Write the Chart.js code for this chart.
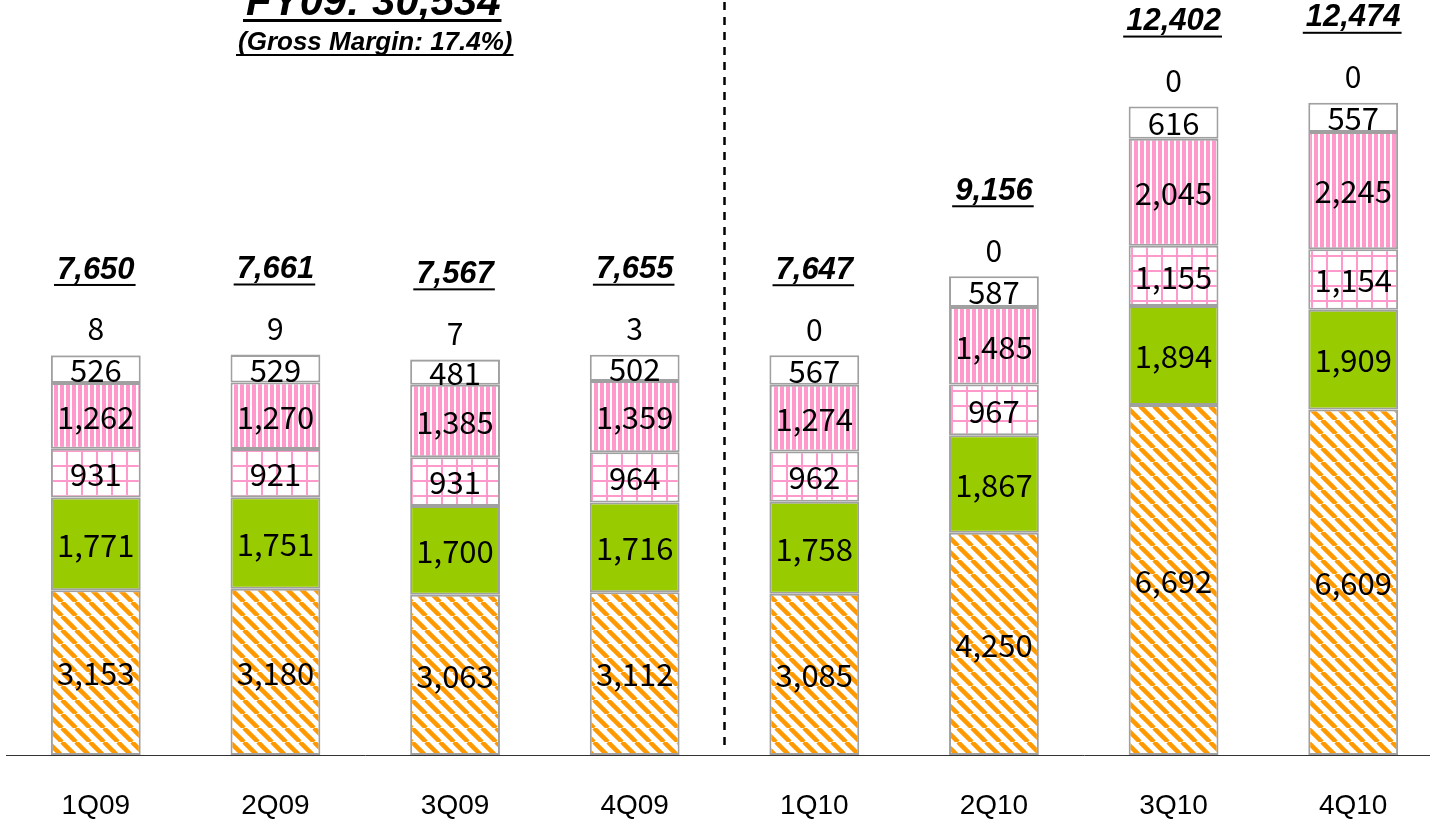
<!DOCTYPE html>
<html lang="en">
  <head>
    <meta charset="UTF-8" />
    <title>Quarterly sales</title>
    <style>
      html,
      body {
        margin: 0;
        padding: 0;
        background: #fff;
        overflow: hidden;
      }
      #chart {
        position: absolute;
        left: 6px;
        top: 0;
      }
    </style>
  </head>
  <body>
    <canvas id="chart" width="1437" height="821"></canvas>
    <script src="https://cdn.jsdelivr.net/npm/chart.js"></script>
    <script>
      // 四半期
      const quarters = ["1Q09", "2Q09", "3Q09", "4Q09", "1Q10", "2Q10", "3Q10", "4Q10"];
      // 下から順に積み上げ
      const orangeVals = [3153, 3180, 3063, 3112, 3085, 4250, 6692, 6609];
      const greenVals = [1771, 1751, 1700, 1716, 1758, 1867, 1894, 1909];
      const gridVals = [931, 921, 931, 964, 962, 967, 1155, 1154];
      const stripeVals = [1262, 1270, 1385, 1359, 1274, 1485, 2045, 2245];
      const whiteVals = [526, 529, 481, 502, 567, 587, 616, 557];
      const grayVals = [8, 9, 7, 3, 0, 0, 0, 0];
      const totals = [7650, 7661, 7567, 7655, 7647, 9156, 12402, 12474];
      const fyTitle = "FY09: 30,534";
      const fySub = "(Gross Margin: 17.4%)";

      const fmt = (v) => v.toLocaleString("en-US");

      // パターン作成
      const makePattern = (size, draw) => {
        const c = document.createElement("canvas");
        c.width = size;
        c.height = size;
        const g = c.getContext("2d");
        g.fillStyle = "#fff";
        g.fillRect(0, 0, size, size);
        draw(g, size);
        return g.createPattern(c, "repeat");
      };
      const diagPattern = makePattern(14, (g, s) => {
        g.strokeStyle = "#ff9900";
        g.lineWidth = 4.5;
        for (let k = -1; k <= 1; k++) {
          g.beginPath();
          g.moveTo(k * s, 0);
          g.lineTo(k * s + s, s);
          g.stroke();
        }
      });
      const gridPattern = makePattern(15, (g, s) => {
        g.fillStyle = "#ff99cc";
        g.fillRect(0, 0, 2, s);
        g.fillRect(0, 0, s, 2);
      });
      const stripePattern = makePattern(6, (g, s) => {
        g.fillStyle = "#ff99cc";
        g.fillRect(0, 0, 4, s);
      });

      const labelPlugin = {
        id: "labels",
        afterDatasetsDraw(chart) {
          const ctx = chart.ctx;
          const x = chart.scales.x;
          ctx.save();
          ctx.textAlign = "center";
          ctx.textBaseline = "middle";
          ctx.fillStyle = "#000";
          // 各セグメントの値
          ctx.font = '31px "Noto Sans CJK JP", sans-serif';
          for (let d = 0; d < 5; d++) {
            const meta = chart.getDatasetMeta(d);
            meta.data.forEach((bar, i) => {
              const v = chart.data.datasets[d].data[i];
              ctx.fillText(fmt(v), bar.x, (bar.y + bar.base) / 2 + 1);
            });
          }
          // 一番上の小さい値と合計
          const topMeta = chart.getDatasetMeta(5);
          topMeta.data.forEach((bar, i) => {
            ctx.font = '30px "Noto Sans CJK JP", sans-serif';
            ctx.fillText(fmt(grayVals[i]), bar.x, bar.y - 26);
            ctx.font = 'italic bold 31px "Liberation Sans", Arial, sans-serif';
            const t = fmt(totals[i]);
            const ty = bar.y - 85;
            ctx.fillText(t, bar.x, ty);
            const w = ctx.measureText(t).width;
            ctx.fillRect(bar.x - w / 2 - 3, ty + 14, w + 4, 2);
          });
          // 年度の区切り線
          const sepX = (x.getPixelForValue(3) + x.getPixelForValue(4)) / 2;
          ctx.strokeStyle = "#000";
          ctx.lineWidth = 2.5;
          ctx.setLineDash([8, 7]);
          ctx.beginPath();
          ctx.moveTo(sepX, 2);
          ctx.lineTo(sepX, chart.chartArea.bottom - 4);
          ctx.stroke();
          ctx.setLineDash([]);
          // FY09 見出し
          const cx = (x.getPixelForValue(0) + x.getPixelForValue(3)) / 2 + 8;
          ctx.textBaseline = "alphabetic";
          ctx.font = 'italic bold 42px "Liberation Sans", Arial, sans-serif';
          ctx.fillText(fyTitle, cx, 15);
          let w = ctx.measureText(fyTitle).width;
          ctx.fillRect(cx - w / 2 - 3, 19, w + 4, 3);
          ctx.font = 'italic bold 26px "Liberation Sans", Arial, sans-serif';
          ctx.fillText(fySub, cx + 2, 50);
          w = ctx.measureText(fySub).width;
          ctx.fillRect(cx + 2 - w / 2 - 2, 54, w + 3, 2);
          ctx.restore();
        },
      };

      const border = "#a0a0a0";
      const ds = (label, data, bg) => ({
        label,
        data,
        backgroundColor: bg,
        borderColor: border,
        borderWidth: 2,
        borderSkipped: false,
      });

      const ctx1 = document.getElementById("chart");
      window.chart = new Chart(ctx1, {
        type: "bar",
        data: {
          labels: quarters,
          datasets: [
            ds("orange", orangeVals, diagPattern),
            ds("green", greenVals, "#99cc00"),
            ds("grid", gridVals, gridPattern),
            ds("stripe", stripeVals, stripePattern),
            ds("white", whiteVals, "#ffffff"),
            ds("gray", grayVals, "#a0a0a0"),
          ],
        },
        options: {
          responsive: false,
          animation: false,
          devicePixelRatio: 1,
          layout: { padding: { top: 0, bottom: 0, left: 0, right: 0 } },
          plugins: {
            legend: { display: false },
            tooltip: { enabled: false },
          },
          datasets: {
            bar: { categoryPercentage: 1, barPercentage: 0.5 },
          },
          scales: {
            x: {
              stacked: true,
              grid: { display: false, drawTicks: false },
              border: { display: true, color: "#333", width: 1 },
              afterFit: (scale) => {
                scale.height = 66;
              },
              ticks: {
                padding: 34,
                color: "#000",
                font: { family: '"Liberation Sans", Arial, sans-serif', size: 28 },
              },
            },
            y: {
              stacked: true,
              display: false,
              min: 0,
              max: 14440,
            },
          },
        },
        plugins: [labelPlugin],
      });
    </script>
  </body>
</html>
